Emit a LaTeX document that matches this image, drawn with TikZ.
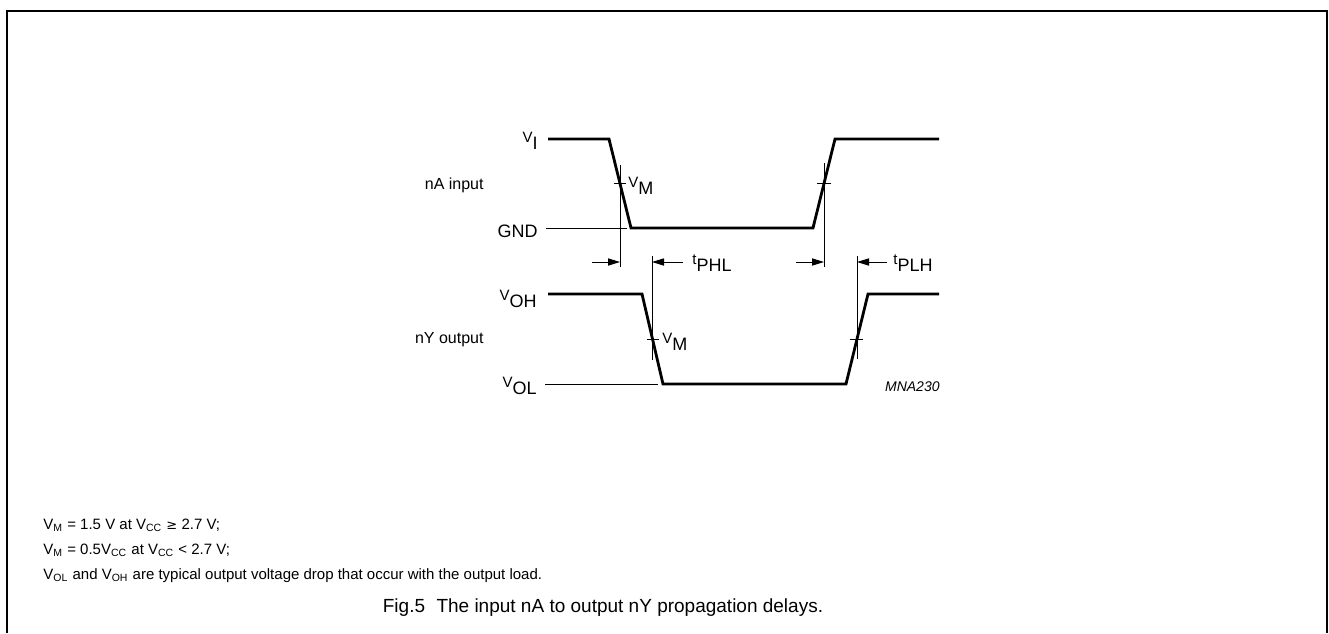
\documentclass[tikz,border=0pt]{standalone}
\usepackage{fontspec}
\setmainfont{Liberation Sans}
\usetikzlibrary{arrows.meta}
\newcommand{\sig}[2]{\raisebox{3.5pt}{\fontsize{7.5}{8}\selectfont #1}{\fontsize{9}{10}\selectfont #2}}
\newcommand{\sub}[2]{#1\textsubscript{#2}}
\tikzset{
	wave/.style={line width=1.4pt,line join=miter},
	hair/.style={line width=0.5pt},
	lvl/.style={font=\fontsize{9}{10}\selectfont,inner sep=0pt},
	note/.style={font=\fontsize{7.5}{9}\selectfont,inner sep=0pt,anchor=base west},
	delay/.style={hair,-{Triangle[length=6pt,width=3.6pt]}}
}
\begin{document}
\begin{tikzpicture}[x=0.5pt,y=-0.5pt]
		\useasboundingbox (0,0) rectangle (1329,633);
		\draw[line width=1pt] (7,633)--(7,11)--(1327,11)--(1327,633);
		% level labels
		\node[lvl,anchor=base east] (vi) at (538,149) {\sig{V}{I}};
		\node[lvl,anchor=base east] (gnd) at (538,237) {GND};
		\node[lvl,anchor=base east] (voh) at (537,307) {\sig{V}{OH}};
		\node[lvl,anchor=base east] (vol) at (537,394) {\sig{V}{OL}};
		\node[lvl,anchor=east,font=\fontsize{8}{9}\selectfont] (nain) at (484,185) {nA input};
		\node[lvl,anchor=east,font=\fontsize{8}{9}\selectfont] (nyout) at (484,340) {nY output};
		% waveforms
		\coordinate (gndend) at (627,228);
		\coordinate (volend) at (658,384);
		\draw[wave] (548,139)--(609,139)--(631,228)--(813,228)--(835,139)--(939,139);
		\draw[wave] (548,294)--(642,294)--(663,384)--(846,384)--(868,294)--(939,294);
		\draw[hair] (gnd.east)++(4pt,-4pt) coordinate (gndbeg) (gndbeg|-gndend)--(gndend);
		\draw[hair] (vol.east)++(4pt,-4pt) coordinate (volbeg) (volbeg|-volend)--(volend);
		% VM marks
		\draw[hair] (614,183)--(626,183) (817,183)--(831,183);
		\draw[hair] (647,339)--(659,339) (850,339)--(863,339);
		\draw[hair] (620,165)--(620,267) (824,163)--(824,267);
		\draw[hair] (652,256)--(652,360) (857,256)--(857,359);
		\node[lvl,anchor=base west] (vmin) at (628,194) {\sig{V}{M}};
		\node[lvl,anchor=base west] (vmout) at (662,350) {\sig{V}{M}};
		% delays
		\draw[delay] (592,262)--(620,262);
		\draw[delay] (796,262)--(824,262);
		\draw[delay] (683,262)--(652,262);
		\draw[delay] (887,262)--(857,262);
		\node[lvl,anchor=base west] (tphl) at (692,271) {\sig{t}{PHL}};
		\node[lvl,anchor=base west] (tplh) at (893,271) {\sig{t}{PLH}};
		\node[lvl,anchor=east,font=\fontsize{7}{8}\selectfont\itshape] (code) at (940,387) {MNA230};
		% notes
		\node[note] (n1) at (43,529) {\sub{V}{M} = 1.5 V at \sub{V}{CC} {\fontspec{DejaVu Sans}\fontsize{6.5}{8}\selectfont≥} 2.7 V;};
		\node[note] (n2) at (43,554) {\sub{V}{M} = 0.5\sub{V}{CC} at \sub{V}{CC} < 2.7 V;};
		\node[note] (n3) at (43,579) {\sub{V}{OL} and \sub{V}{OH} are typical output voltage drop that occur with the output load.};
		\node[lvl,anchor=base,font=\fontsize{9.5}{11}\selectfont] (cap) at (603,612) {Fig.5\hspace{0.6em}The input nA to output nY propagation delays.};
\end{tikzpicture}
\end{document}
